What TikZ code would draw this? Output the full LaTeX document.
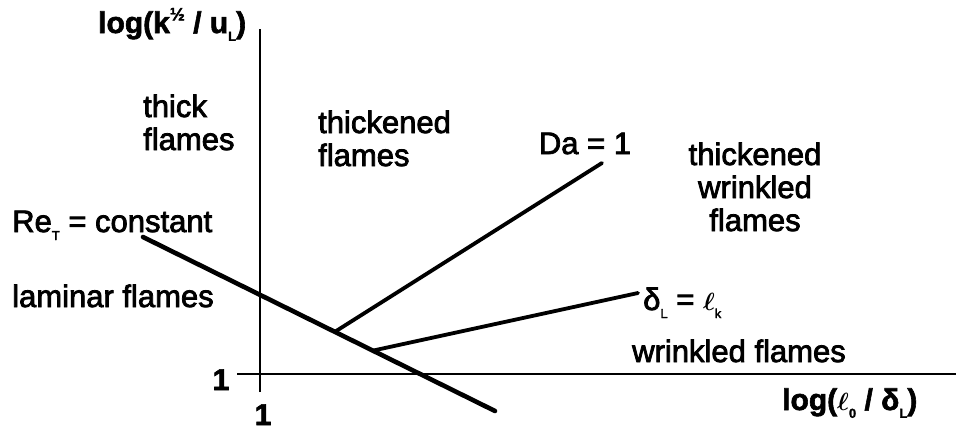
\documentclass[tikz,border=0pt]{standalone}
\usepackage{fontspec}
\setmainfont{Liberation Sans}
\newfontfamily\labfont[FakeBold=2.5]{Liberation Sans}
\newfontfamily\axfont[FakeBold=2]{Liberation Sans Bold}
\usetikzlibrary{calc}
\newcommand\subsc[1]{\raisebox{-0.26em}{\fontsize{13}{13}\selectfont #1}}
\newcommand\supfrac{\raisebox{0.42em}{\fontsize{18}{18}\selectfont ½}}
\begin{document}
\begin{tikzpicture}[x=1pt,y=-1pt,
  lab/.style={inner sep=0pt, font=\fontsize{31}{33}\labfont},
  axl/.style={inner sep=0pt, font=\fontsize{30}{32}\axfont},
  regline/.style={line width=4.6pt, line cap=round},
  bndline/.style={line width=3.8pt, line cap=round},
  axisline/.style={line width=1.8pt}]
\useasboundingbox (0,0) rectangle (956,437);
% axes
\coordinate (yT) at (260,29);
\coordinate (yB) at (260,392);
\coordinate (xL) at (237,374);
\coordinate (xR) at (956,374);
\draw[axisline] (yB) -- (yT);
\draw[axisline] (xL) -- (xR);
% boundary lines
\coordinate (reA) at (143,237);
\coordinate (reB) at (495,411);
\coordinate (j1) at ($(reA)!0.545!(reB)$);
\coordinate (j2) at ($(reA)!0.653!(reB)$);
\coordinate (daE) at (602,163);
\coordinate (dlE) at (638,293);
\draw[regline] (reA) -- (reB);
\draw[bndline] (j1) -- (daE);
\draw[bndline] (j2) -- (dlE);
% axis labels
\node[axl, anchor=base west] (ylab) at (98,33) {log(k\supfrac{} / u\subsc{L})};
\node[axl, anchor=base west] (xlab) at (782,410) {log({\boldmath$\ell$}\subsc{0} / δ\subsc{L})};
\node[axl, anchor=base] (one1) at (221,390) {1};
\node[axl, anchor=base] (one2) at (263,425) {1};
% region labels
\node[lab, anchor=base west] (thick) at (143,117) {\begin{tabular}[t]{@{}l@{}}thick\\flames\end{tabular}};
\node[lab, anchor=base west] (thickened) at (318,133) {\begin{tabular}[t]{@{}l@{}}thickened\\flames\end{tabular}};
\node[lab, anchor=base] (da) at (585,154) {Da = 1};
\node[lab, anchor=base] (tw) at (755,165) {\begin{tabular}[t]{@{}c@{}}thickened\\wrinkled\\flames\end{tabular}};
\node[lab, anchor=base west] (re) at (12,232) {Re\subsc{T} = constant};
\node[lab, anchor=base west] (lam) at (12,307) {laminar flames};
\node[lab, anchor=base west] (dl) at (643,310) {δ\subsc{L} = {\boldmath$\ell$}\subsc{k}};
\node[lab, anchor=base west] (wr) at (632,362) {wrinkled flames};
\end{tikzpicture}
\end{document}
